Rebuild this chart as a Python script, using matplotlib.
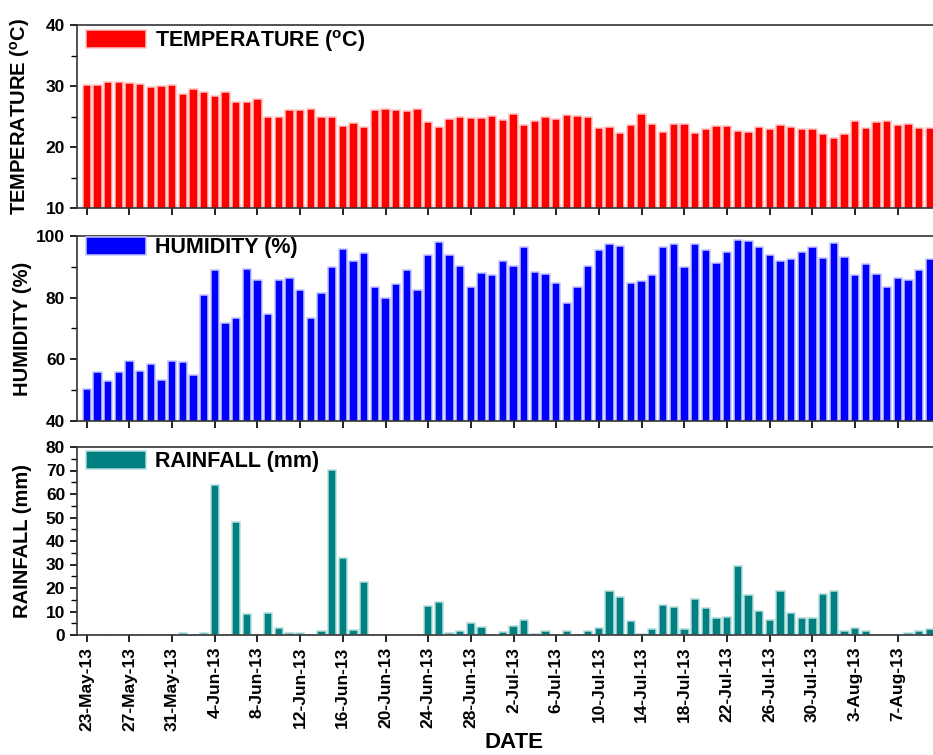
import matplotlib
matplotlib.use("Agg")
import matplotlib.pyplot as plt
import matplotlib.dates as mdates
from matplotlib.ticker import MultipleLocator, FuncFormatter
import pandas as pd

plt.rcParams["font.family"] = ["Liberation Sans", "DejaVu Sans"]
plt.rcParams["font.weight"] = "bold"
plt.rcParams["mathtext.fontset"] = "custom"
plt.rcParams["mathtext.rm"] = "Liberation Sans:bold"
plt.rcParams["mathtext.bf"] = "Liberation Sans:bold"
plt.rcParams["mathtext.it"] = "Liberation Sans:bold"

# Daily observations, 23 May 2013 – 10 Aug 2013
start_date = "2013-05-23"
n_days = 80
dates = pd.date_range(start_date, periods=n_days, freq="D")

temperature = [
    30.2, 30.2, 30.65, 30.65, 30.5, 30.4, 29.9, 30.05, 30.2, 28.7,
    29.45, 29.0, 28.4, 29.0, 27.4, 27.4, 27.9, 25.0, 25.0, 26.0,
    26.0, 26.2, 25.0, 25.0, 23.4, 23.9, 23.3, 26.05, 26.3, 26.1,
    25.95, 26.3, 24.1, 23.2, 24.6, 24.9, 24.75, 24.75, 25.1, 24.5,
    25.4, 23.65, 24.3, 25.0, 24.6, 25.3, 25.1, 24.9, 23.05, 23.2,
    22.35, 23.6, 25.4, 23.8, 22.5, 23.7, 23.7, 22.35, 22.95, 23.45,
    23.45, 22.55, 22.5, 23.3, 22.95, 23.6, 23.2, 22.95, 22.95, 22.1,
    21.4, 22.2, 24.25, 23.05, 24.15, 24.3, 23.6, 23.75, 23.1, 23.15,
]

humidity = [
    50.4, 56.0, 53.0, 56.0, 59.4, 56.3, 58.4, 53.4, 59.5, 59.0,
    54.8, 80.9, 89.0, 71.8, 73.4, 89.4, 85.7, 74.8, 85.7, 86.5,
    82.4, 73.4, 81.5, 90.0, 95.8, 92.0, 94.4, 83.6, 80.0, 84.4,
    89.1, 82.4, 93.9, 98.0, 93.9, 90.4, 83.5, 87.9, 87.4, 91.9,
    90.4, 96.4, 88.3, 87.8, 84.8, 78.3, 83.5, 90.4, 95.5, 97.3,
    96.8, 84.8, 85.4, 87.4, 96.4, 97.4, 89.9, 97.4, 95.6, 91.2,
    94.8, 98.8, 98.4, 96.3, 93.9, 91.9, 92.4, 94.8, 96.4, 92.9,
    97.8, 93.3, 87.4, 90.8, 87.8, 83.5, 86.4, 85.7, 88.9, 92.4,
]

rainfall = [
    0, 0, 0, 0, 0, 0, 0, 0, 0, 0.7,
    0, 1.0, 63.7, 0, 48.1, 8.9, 0, 9.3, 3.0, 1.0,
    1.0, 0, 1.7, 70.4, 32.7, 2.1, 22.5, 0, 0, 0,
    0, 0, 12.5, 14.0, 0.7, 1.8, 5.1, 3.4, 0, 1.1,
    3.8, 6.4, 0.6, 1.6, 0, 1.8, 0, 1.8, 3.0, 18.8,
    16.3, 5.95, 0.6, 2.55, 12.9, 12.0, 2.7, 15.3, 11.3, 7.1,
    7.6, 29.3, 17.0, 10.2, 6.4, 18.7, 9.3, 7.4, 7.4, 17.4,
    18.7, 1.8, 3.1, 1.6, 0, 0, 0, 1.0, 1.7, 2.55,
]

panels = [
    dict(values=temperature, label=r"TEMPERATURE ($^{\mathrm{o}}$C)",
         face="#FF0000", edge="#FFC4C4", ylim=(10, 40), major=10, minor=5,
         rect=[77, 25, 933, 208], leg_y=1.0 - 3 / 183),
    dict(values=humidity, label="HUMIDITY (%)",
         face="#0000FF", edge="#C4C4FF", ylim=(40, 100), major=20, minor=10,
         rect=[77, 236, 933, 421], leg_y=1.0 - 1 / 185),
    dict(values=rainfall, label="RAINFALL (mm)",
         face="#008080", edge="#B4DCDC", ylim=(0, 80), major=10, minor=5,
         rect=[77, 447, 933, 635], leg_y=1.0 - 4 / 188),
]

W, H = 933, 755
fig = plt.figure(figsize=(W / 100, H / 100), dpi=100)

x0 = mdates.date2num(dates[0])
xlim = (x0 - 0.91, x0 + 79.3)
xticks = [mdates.date2num(d) for d in dates[::4]]


def date_label(v, pos):
    d = mdates.num2date(v)
    return f"{d.day}-{d.strftime('%b-%y')}"


axes = []
for i, p in enumerate(panels):
    l, t, r, b = p["rect"]
    ax = fig.add_axes([l / W, 1 - b / H, (r - l) / W, (b - t) / H])
    axes.append(ax)
    bars = ax.bar(dates, p["values"], width=0.78, color=p["face"],
                  edgecolor=p["edge"], linewidth=1.1, label=p["label"],
                  zorder=2)
    ax.set_xlim(*xlim)
    ax.set_ylim(*p["ylim"])
    ax.yaxis.set_major_locator(MultipleLocator(p["major"]))
    ax.yaxis.set_minor_locator(MultipleLocator(p["minor"]))
    ax.set_xticks(xticks)
    ax.tick_params(axis="both", which="major", direction="out", length=5,
                   width=1.2, labelsize=12.5, colors="black")
    ax.tick_params(axis="y", which="minor", direction="out", length=4,
                   width=1.0)
    for side in ("left", "top", "bottom"):
        ax.spines[side].set_color("#333333")
        ax.spines[side].set_linewidth(1.2)
    ax.spines["right"].set_visible(False)
    for lab in ax.get_yticklabels():
        lab.set_fontweight("bold")

    ax.set_ylabel(p["label"], fontsize=14.5, fontweight="bold")
    ax.yaxis.set_label_coords(-0.052, 0.5)

    ax.legend(handles=[bars], loc="upper left",
              bbox_to_anchor=(0.011, p["leg_y"]), frameon=False,
              borderpad=0, borderaxespad=0, handlelength=2.75,
              handleheight=0.92, handletextpad=0.45,
              prop={"weight": "bold", "size": 15.5})

    if i < len(panels) - 1:
        ax.tick_params(axis="x", labelbottom=False)
    else:
        ax.xaxis.set_major_formatter(FuncFormatter(date_label))
        for lab in ax.get_xticklabels():
            lab.set_rotation(90)
            lab.set_fontweight("bold")
        ax.set_xlabel("DATE", fontsize=16, fontweight="bold")
        ax.xaxis.set_label_coords(0.51, -0.515)

fig.savefig("out.png", dpi=100)
